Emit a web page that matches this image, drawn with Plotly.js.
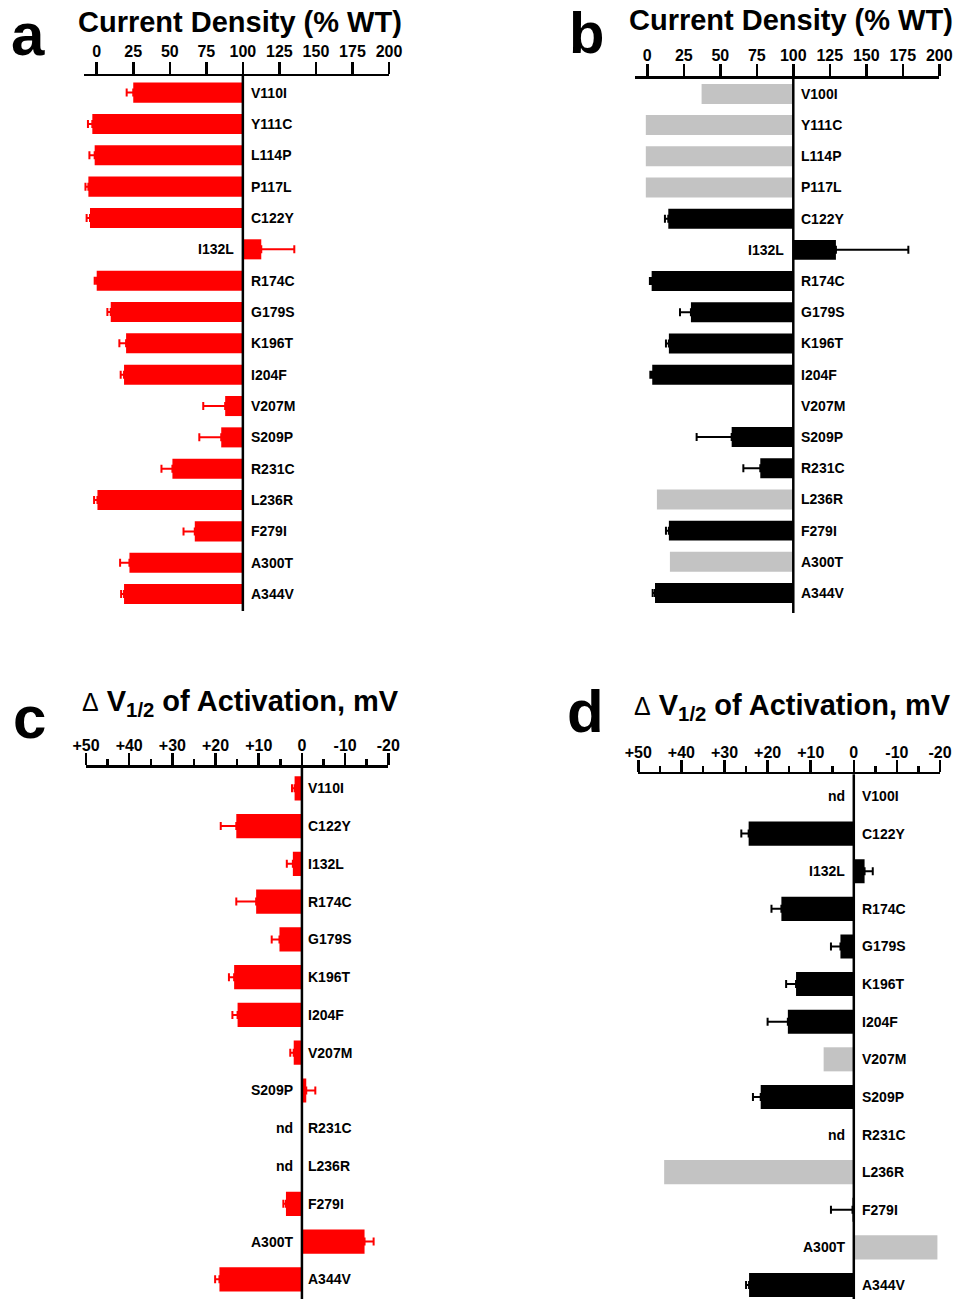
<!DOCTYPE html>
<html>
<head>
<meta charset="utf-8">
<script src="https://cdn.plot.ly/plotly-3.0.1.min.js"></script>
<style>
html,body{margin:0;padding:0;background:#fff;}
#chart{width:954px;height:1299px;}
</style>
</head>
<body>
<div id="chart"></div>
<script>
// ---------- DATA ----------
// Panel a: current density (% WT), red
const catsA = ['V110I','Y111C','L114P','P117L','C122Y','I132L','R174C','G179S','K196T','I204F','V207M','S209P','R231C','L236R','F279I','A300T','A344V'];
const densA = [25, -3, -1.4, -5.7, -4.6, 112.6, 0, 9.6, 20.1, 18.7, 87.9, 85.2, 51.8, 0.5, 67.1, 22.4, 18.7];
const densAErr = [4.5, 3, 3.6, 2, 2.3, 22.6, 1.4, 2.3, 4.6, 2.3, 15, 15, 7.5, 2.3, 7.7, 6.4, 2];

// Panel b: current density (% WT), black = measured, gray = other
const catsB = ['V100I','Y111C','L114P','P117L','C122Y','I132L','R174C','G179S','K196T','I204F','V207M','S209P','R231C','L236R','F279I','A300T','A344V'];
const densB = [37.2, -1, -1, -1, 14.4, 129.2, 3.0, 29.9, 14.8, 3.4, null, 57.8, 77.4, 6.6, 14.8, 15.5, 5.3];
const densBErr = [0, 0, 0, 0, 2.3, 49.6, 1.2, 7.5, 2, 1.3, 0, 24, 11.6, 0, 2, 0, 1.6];
const groupB = ['gray','gray','gray','gray','black','black','black','black','black','black','none','black','black','gray','black','gray','black'];

// Panel c: delta V1/2 of activation (mV), red
const catsC = ['V110I','C122Y','I132L','R174C','G179S','K196T','I204F','V207M','S209P','R231C','L236R','F279I','A300T','A344V'];
const dvC = [1.7, 15.2, 2.1, 10.6, 5.2, 15.7, 14.9, 1.9, -1.0, null, null, 3.7, -14.5, 19.1];
const dvCErr = [0.6, 3.6, 1.4, 4.6, 1.8, 1.2, 1.2, 0.8, 2.1, 0, 0, 0.6, 2.1, 1.0];

// Panel d: delta V1/2 of activation (mV), black / gray
const catsD = ['V100I','C122Y','I132L','R174C','G179S','K196T','I204F','V207M','S209P','R231C','L236R','F279I','A300T','A344V'];
const dvD = [null, 24.4, -2.5, 16.8, 3.1, 13.4, 15.3, 7.0, 21.6, null, 44.0, 0.3, -19.4, 24.3];
const dvDErr = [0, 1.7, 1.9, 2.3, 2.2, 2.3, 4.7, 0, 1.8, 0, 0, 5, 0, 0.7];
const groupD = ['nd','black','black','black','black','black','black','gray','black','nd','gray','black','gray','black'];

// Tick labels
const densTickVals = [0, 25, 50, 75, 100, 125, 150, 175, 200];
const densTickText = ['0','25','50','75','100','125','150','175','200'];
const dvTickVals = [50, 40, 30, 20, 10, 0, -10, -20];
const dvTickText = ['+50','+40','+30','+20','+10','0','-10','-20'];

const titleDens = 'Current Density (% WT)';
const titleDv = '<span style="font-size:25px;font-weight:normal">\u0394</span> V<sub>1/2</sub> of Activation, mV';
const letters = ['a','b','c','d'];

// ---------- STYLE / LAYOUT ----------
const W = 954, H = 1299;
const px = x => x / W;
const py = y => 1 - y / H;
const FONT = 'Liberation Sans, Arial, Helvetica, sans-serif';
const RED = '#ff0000', BLACK = '#000000', GRAY = '#c3c3c3';
const BARW = 0.64;

// error bars point outward from the reference line: dir>0 -> plus side, dir<0 -> minus side
function errBars(dirs, errs, color) {
  return {
    type: 'data', symmetric: false,
    array: dirs.map((s, i) => (s !== null && s > 0) ? errs[i] : 0),
    arrayminus: dirs.map((s, i) => (s !== null && s < 0) ? errs[i] : 0),
    color: color, thickness: 2, width: 4
  };
}

const traces = [];
// panel a (bars drawn from the 100 % line)
const sizeA = densA.map(v => v - 100);
traces.push({
  type: 'bar', orientation: 'h', y: catsA, x: sizeA, base: 100,
  width: BARW, marker: {color: RED, line: {width: 0}},
  error_x: errBars(sizeA, densAErr, RED), xaxis: 'x', yaxis: 'y'
});
// panel b
const sizeBblack = densB.map((v, i) => groupB[i] === 'black' ? v - 100 : null);
const sizeBgray = densB.map((v, i) => groupB[i] === 'gray' ? v - 100 : null);
traces.push({
  type: 'bar', orientation: 'h', y: catsB, x: sizeBgray, base: 100,
  width: BARW, marker: {color: GRAY, line: {width: 0}}, xaxis: 'x2', yaxis: 'y2'
});
traces.push({
  type: 'bar', orientation: 'h', y: catsB, x: sizeBblack, base: 100,
  width: BARW, marker: {color: BLACK, line: {width: 0}},
  error_x: errBars(sizeBblack, densBErr, BLACK), xaxis: 'x2', yaxis: 'y2'
});
// panel c
traces.push({
  type: 'bar', orientation: 'h', y: catsC, x: dvC,
  width: BARW, marker: {color: RED, line: {width: 0}},
  error_x: errBars(dvC, dvCErr, RED), xaxis: 'x3', yaxis: 'y3'
});
// panel d
const dvDblack = dvD.map((v, i) => groupD[i] === 'black' ? v : null);
const dvDgray = dvD.map((v, i) => groupD[i] === 'gray' ? v : null);
traces.push({
  type: 'bar', orientation: 'h', y: catsD, x: dvDgray,
  width: BARW, marker: {color: GRAY, line: {width: 0}}, xaxis: 'x4', yaxis: 'y4'
});
traces.push({
  type: 'bar', orientation: 'h', y: catsD, x: dvDblack,
  width: BARW, marker: {color: BLACK, line: {width: 0}},
  error_x: errBars(dvDblack, dvDErr, BLACK), xaxis: 'x4', yaxis: 'y4'
});

function topAxis(domain, range, tv, tt, anchor, minor, standoff) {
  const ax = {
    domain: domain, range: range, autorange: false, side: 'top', anchor: anchor,
    showline: true, linewidth: 2.5, linecolor: BLACK, mirror: false,
    ticks: 'outside', ticklen: 12, tickwidth: 2.5, tickcolor: BLACK,
    tickvals: tv, ticktext: tt, showgrid: false, zeroline: false,
    tickfont: {family: FONT, size: 16, color: BLACK, weight: 700},
    ticklabelstandoff: standoff,
    fixedrange: true
  };
  if (minor) ax.minor = {dtick: 5, tick0: 0, ticks: 'outside', ticklen: 6, tickwidth: 2.5, tickcolor: BLACK, showgrid: false};
  return ax;
}
function catAxis(domain, range, anchor) {
  return {domain: domain, range: range, autorange: false, type: 'category', anchor: anchor,
    showline: false, showticklabels: false, ticks: '', showgrid: false, zeroline: false, fixedrange: true};
}

const layout = {
  width: W, height: H,
  margin: {l: 0, r: 0, t: 0, b: 0, pad: 0},
  paper_bgcolor: '#fff', plot_bgcolor: 'rgba(0,0,0,0)',
  showlegend: false, barmode: 'overlay', hovermode: false,
  font: {family: FONT, color: BLACK},
  xaxis: topAxis([px(84), px(389)], [-8.7, 200], densTickVals, densTickText, 'y', false, -2),
  yaxis: catAxis([py(611), py(76)], [16.54, -0.53], 'x'),
  xaxis2: topAxis([px(635.3), px(939.3)], [-8.2, 200], densTickVals, densTickText, 'y2', false, -3),
  yaxis2: catAxis([py(613), py(78.7)], [16.64, -0.487], 'x2'),
  xaxis3: topAxis([px(86), px(388.3)], [50, -20], dvTickVals, dvTickText, 'y3', true, -4),
  yaxis3: catAxis([0, py(767.7)], [13.52, -0.545], 'x3'),
  xaxis4: topAxis([px(638.3), px(940)], [50, -20], dvTickVals, dvTickText, 'y4', true, -5),
  yaxis4: catAxis([0, py(774.3)], [13.372, -0.577], 'x4'),
  shapes: [], annotations: []
};

// vertical reference lines
[['x', 'y', 100], ['x2', 'y2', 100], ['x3', 'y3', 0], ['x4', 'y4', 0]].forEach(([xr, yr, x0]) => {
  layout.shapes.push({type: 'line', xref: xr, yref: yr + ' domain', x0: x0, x1: x0, y0: 0, y1: 1,
    line: {color: BLACK, width: 2.5}, layer: 'above'});
});

const labFont = {family: FONT, size: 14, color: BLACK, weight: 700};
function label(xr, yr, x0, cat, text, leftSide, rshift) {
  layout.annotations.push({xref: xr, yref: yr, x: x0, y: cat, text: text, showarrow: false,
    xanchor: leftSide ? 'right' : 'left', yanchor: 'middle', xshift: leftSide ? -7 : rshift, font: labFont});
}
// a
catsA.forEach((c, i) => label('x', 'y', 100, c, c, densA[i] > 100, 6));
// b
catsB.forEach((c, i) => label('x2', 'y2', 100, c, c, densB[i] !== null && densB[i] > 100, 6));
// c
catsC.forEach((c, i) => {
  if (dvC[i] === null) { label('x3', 'y3', 0, c, c, false, 4); label('x3', 'y3', 0, c, 'nd', true, 4); }
  else label('x3', 'y3', 0, c, c, dvC[i] < 0, 4);
});
// d
catsD.forEach((c, i) => {
  if (groupD[i] === 'nd') { label('x4', 'y4', 0, c, c, false, 6); label('x4', 'y4', 0, c, 'nd', true, 6); }
  else label('x4', 'y4', 0, c, c, dvD[i] < 0, 6);
});

// titles
const titleFont = {family: FONT, size: 29, color: BLACK, weight: 700};
[[titleDens, 240, 22], [titleDens, 791, 20], [titleDv, 240, 703], [titleDv, 792, 707]].forEach(([t, x, y]) => {
  layout.annotations.push({xref: 'paper', yref: 'paper', x: px(x), y: py(y), text: t, showarrow: false,
    xanchor: 'center', yanchor: 'middle', font: titleFont});
});
// panel letters
[[28, 34, 60], [586, 33, 58], [29, 717, 60], [585, 711, 60]].forEach(([x, y, s], i) => {
  layout.annotations.push({xref: 'paper', yref: 'paper', x: px(x), y: py(y), text: letters[i], showarrow: false,
    xanchor: 'center', yanchor: 'middle', font: {family: FONT, size: s, color: BLACK, weight: 700}});
});

Plotly.newPlot('chart', traces, layout, {staticPlot: true, displayModeBar: false});
</script>
</body>
</html>
